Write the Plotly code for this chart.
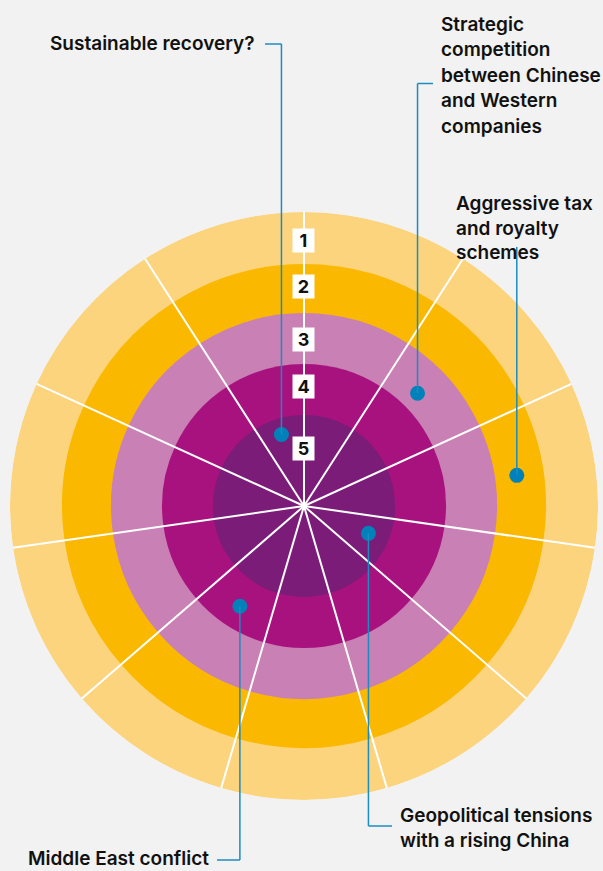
import math
import plotly.graph_objects as go

# ---------------- data ----------------
ring_levels = [1, 2, 3, 4, 5]                      # risk level (outer -> inner)
ring_outer_radius = [294, 242, 193, 142, 91]       # radial-axis units
ring_colors = ["#FDD47E", "#FAB900", "#C980B4", "#A8127E", "#7A1C78"]
n_sectors = 11

risk_names = [
    "Sustainable recovery?",
    "Strategic competition between Chinese and Western companies",
    "Aggressive tax and royalty schemes",
    "Geopolitical tensions with a rising China",
    "Middle East conflict",
]
risk_r = [75, 160, 215, 70, 119]                   # radial position of each risk
risk_theta = [342.5, 45.2, 81.8, 113.0, 212.6]     # bearing, clockwise from top
risk_label_lines = [
    ["Sustainable recovery?"],
    ["Strategic", "competition", "between Chinese", "and Western", "companies"],
    ["Aggressive tax", "and royalty", "schemes"],
    ["Geopolitical tensions", "with a rising China"],
    ["Middle East conflict"],
]

# ---------------- layout constants ----------------
W, H = 603, 871
CX, CY, R = 304, 506, 294          # centre and outer radius in pixels
BG = "#F2F2F2"
DOT = "#0081B9"
LEAD = "#1A8CC2"
FONT = "Inter"

# label layout: anchor side, text x, first line centre y, line step, elbow y, stub end x
label_layout = [
    dict(anchor="right", x=256, y0=43.5, step=25.5, elbow=44, stub=265),
    dict(anchor="left", x=440, y0=24, step=25.5, elbow=83.5, stub=433),
    dict(anchor="left", x=455, y0=203.5, step=24.7, elbow=247, stub=None),
    dict(anchor="left", x=399, y0=815, step=25.7, elbow=826, stub=392),
    dict(anchor="right", x=210, y0=858.5, step=25, elbow=860, stub=217),
]

fig = go.Figure()

# rings (barpolar, overlay: outer first)
sector_w = 360 / n_sectors
centres = [(k + 0.5) * sector_w for k in range(n_sectors)]
for lvl, rr, col in zip(ring_levels, ring_outer_radius, ring_colors):
    fig.add_trace(go.Barpolar(
        r=[rr] * n_sectors, theta=centres, width=[sector_w] * n_sectors,
        marker=dict(color=col, line=dict(width=0)),
        hoverinfo="skip", showlegend=False, name=f"Level {lvl}",
    ))

# spokes
sp_r, sp_t = [], []
for k in range(n_sectors):
    sp_r += [0, ring_outer_radius[0], None]
    sp_t += [k * sector_w, k * sector_w, None]
fig.add_trace(go.Scatterpolar(
    r=sp_r, theta=sp_t, mode="lines", line=dict(color="white", width=2),
    connectgaps=False, hoverinfo="skip", showlegend=False,
))

# risk dots
fig.add_trace(go.Scatterpolar(
    r=risk_r, theta=risk_theta, mode="markers",
    marker=dict(color=DOT, size=15, line=dict(width=0)),
    text=risk_names, hoverinfo="text", showlegend=False,
))

# invisible overlay cartesian axes in pixel units for leaders and labels
fig.add_trace(go.Scatter(x=[0, W], y=[0, H], mode="markers",
                         marker=dict(opacity=0), hoverinfo="skip", showlegend=False))

shapes = []
annotations = []
for lines, rr, th, lay in zip(risk_label_lines, risk_r, risk_theta, label_layout):
    dx = CX + rr * math.sin(math.radians(th))
    dy = CY - rr * math.cos(math.radians(th))
    # vertical leader
    shapes.append(dict(type="line", xref="x", yref="y", x0=dx, y0=dy, x1=dx, y1=lay["elbow"],
                       line=dict(color=LEAD, width=1.5), layer="above"))
    if lay["stub"] is not None:
        shapes.append(dict(type="line", xref="x", yref="y", x0=dx, y0=lay["elbow"],
                           x1=lay["stub"], y1=lay["elbow"],
                           line=dict(color=LEAD, width=1.5), layer="above"))
    for i, ln in enumerate(lines):
        annotations.append(dict(
            x=lay["x"], y=lay["y0"] + i * lay["step"], xref="x", yref="y",
            text=ln, showarrow=False, xanchor=lay["anchor"], yanchor="middle",
            borderpad=0,
            font=dict(family=FONT, size=19, color="#111111", weight=600),
        ))

# ring level boxes on the vertical spoke
for lvl, y in zip(ring_levels, [240, 286.7, 339, 386.7, 448.3]):
    annotations.append(dict(
        x=CX - 1, y=y, xref="x", yref="y", text=str(lvl), showarrow=False,
        xanchor="center", yanchor="middle", bgcolor="white", borderpad=0,
        width=21, height=23,
        font=dict(family=FONT, size=18, color="#111111", weight=700),
    ))

fig.update_layout(
    width=W, height=H, margin=dict(l=0, r=0, t=0, b=0),
    paper_bgcolor=BG, plot_bgcolor="rgba(0,0,0,0)",
    polar=dict(
        domain=dict(x=[(CX - R) / W, (CX + R) / W],
                    y=[(H - CY - R) / H, (H - CY + R) / H]),
        bgcolor="rgba(0,0,0,0)", barmode="overlay", bargap=0, hole=0,
        radialaxis=dict(visible=False, range=[0, R], showgrid=False),
        angularaxis=dict(visible=False, direction="clockwise", rotation=90,
                         showgrid=False),
    ),
    xaxis=dict(range=[0, W], visible=False, fixedrange=True, domain=[0, 1]),
    yaxis=dict(range=[H, 0], visible=False, fixedrange=True, domain=[0, 1]),
    shapes=shapes, annotations=annotations, showlegend=False,
)

fig.write_html(
    "out.html",
    config={"displayModeBar": False},
    post_script="document.body.style.margin='0';document.body.style.overflow='hidden';"
                "document.body.style.background='#F2F2F2';",
)
